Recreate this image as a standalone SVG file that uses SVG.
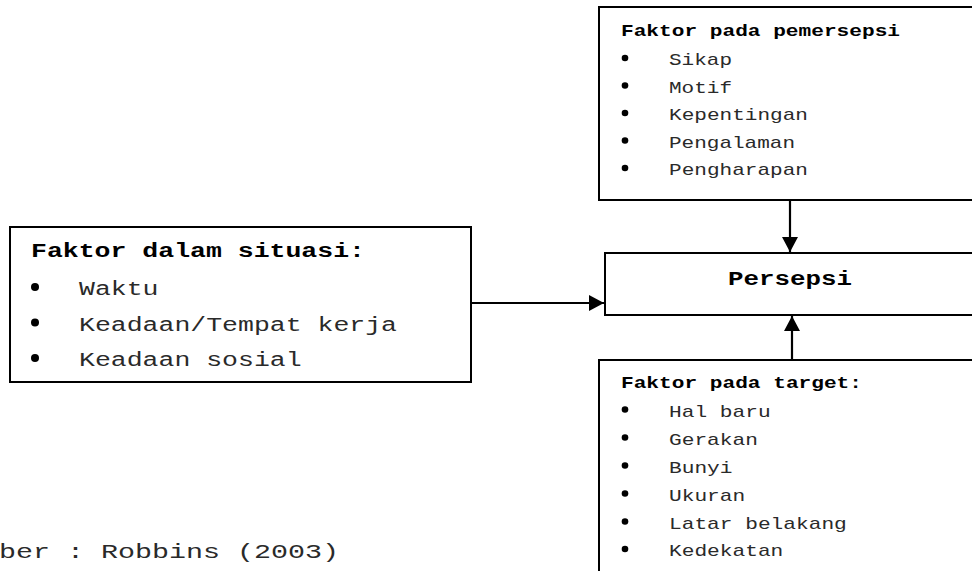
<svg xmlns="http://www.w3.org/2000/svg" width="972" height="571" viewBox="0 0 972 571">
<style>
.box{fill:#fff;stroke:#000;stroke-width:2}
.t{font-family:"Liberation Mono","Courier New",monospace;fill:#000}
.b{font-weight:bold}
.i{fill:#2a2a2a}
.line{stroke:#000;stroke-width:2.2;fill:none}
</style>
<defs>
<marker id="ah" markerUnits="userSpaceOnUse" markerWidth="16" markerHeight="16" refX="15" refY="8" orient="auto">
<path d="M0,0 L15,8 L0,16 Z" fill="#000"/>
</marker>
</defs>
<rect width="972" height="571" fill="#fff"/>
<g id="connectors">
<line class="line" x1="790" y1="200" x2="790" y2="252" marker-end="url(#ah)"/>
<line class="line" x1="792" y1="360" x2="792" y2="316" marker-end="url(#ah)"/>
<line class="line" x1="471" y1="303" x2="604" y2="303" marker-end="url(#ah)"/>
</g>
<g id="node-pemersepsi">
<rect class="box" x="599" y="7" width="390" height="193"/>
<text class="t b" x="621" y="36" font-size="17" textLength="279" lengthAdjust="spacingAndGlyphs">Faktor pada pemersepsi</text>
<circle cx="625" cy="58" r="3.3"/><circle cx="625" cy="85.5" r="3.3"/><circle cx="625" cy="113" r="3.3"/><circle cx="625" cy="140.5" r="3.3"/><circle cx="625" cy="168" r="3.3"/>
<text class="t i" x="669" y="65" font-size="17" textLength="63" lengthAdjust="spacingAndGlyphs">Sikap</text>
<text class="t i" x="669" y="92.5" font-size="17" textLength="63" lengthAdjust="spacingAndGlyphs">Motif</text>
<text class="t i" x="669" y="120" font-size="17" textLength="139" lengthAdjust="spacingAndGlyphs">Kepentingan</text>
<text class="t i" x="669" y="147.5" font-size="17" textLength="126" lengthAdjust="spacingAndGlyphs">Pengalaman</text>
<text class="t i" x="669" y="175" font-size="17" textLength="139" lengthAdjust="spacingAndGlyphs">Pengharapan</text>
</g>
<g id="node-persepsi">
<rect class="box" x="605" y="253" width="380" height="62"/>
<text class="t b" x="728" y="285" font-size="20" textLength="124" lengthAdjust="spacingAndGlyphs">Persepsi</text>
</g>
<g id="node-situasi">
<rect class="box" x="10" y="227" width="461" height="155"/>
<text class="t b" x="31" y="257" font-size="20" textLength="334" lengthAdjust="spacingAndGlyphs">Faktor dalam situasi:</text>
<circle cx="35" cy="287" r="4"/><circle cx="35" cy="322.5" r="4"/><circle cx="35" cy="358" r="4"/>
<text class="t i" x="79" y="295" font-size="20" textLength="79.5" lengthAdjust="spacingAndGlyphs">Waktu</text>
<text class="t i" x="79" y="330.5" font-size="20" textLength="318" lengthAdjust="spacingAndGlyphs">Keadaan/Tempat kerja</text>
<text class="t i" x="79" y="366" font-size="20" textLength="222.6" lengthAdjust="spacingAndGlyphs">Keadaan sosial</text>
</g>
<g id="node-target">
<rect class="box" x="599" y="360" width="390" height="230"/>
<text class="t b" x="621" y="388" font-size="17" textLength="241" lengthAdjust="spacingAndGlyphs">Faktor pada target:</text>
<circle cx="625" cy="409.5" r="3.3"/><circle cx="625" cy="437.5" r="3.3"/><circle cx="625" cy="465.5" r="3.3"/><circle cx="625" cy="493.5" r="3.3"/><circle cx="625" cy="521.5" r="3.3"/><circle cx="625" cy="549" r="3.3"/>
<text class="t i" x="669" y="416.5" font-size="17" textLength="101.6" lengthAdjust="spacingAndGlyphs">Hal baru</text>
<text class="t i" x="669" y="444.5" font-size="17" textLength="88.9" lengthAdjust="spacingAndGlyphs">Gerakan</text>
<text class="t i" x="669" y="472.5" font-size="17" textLength="63.5" lengthAdjust="spacingAndGlyphs">Bunyi</text>
<text class="t i" x="669" y="500.5" font-size="17" textLength="76.2" lengthAdjust="spacingAndGlyphs">Ukuran</text>
<text class="t i" x="669" y="528.5" font-size="17" textLength="177.8" lengthAdjust="spacingAndGlyphs">Latar belakang</text>
<text class="t i" x="669" y="556" font-size="17" textLength="114.3" lengthAdjust="spacingAndGlyphs">Kedekatan</text>
</g>
<text class="t i" x="-1" y="558" font-size="20" textLength="340" lengthAdjust="spacingAndGlyphs">ber : Robbins (2003)</text>
</svg>
